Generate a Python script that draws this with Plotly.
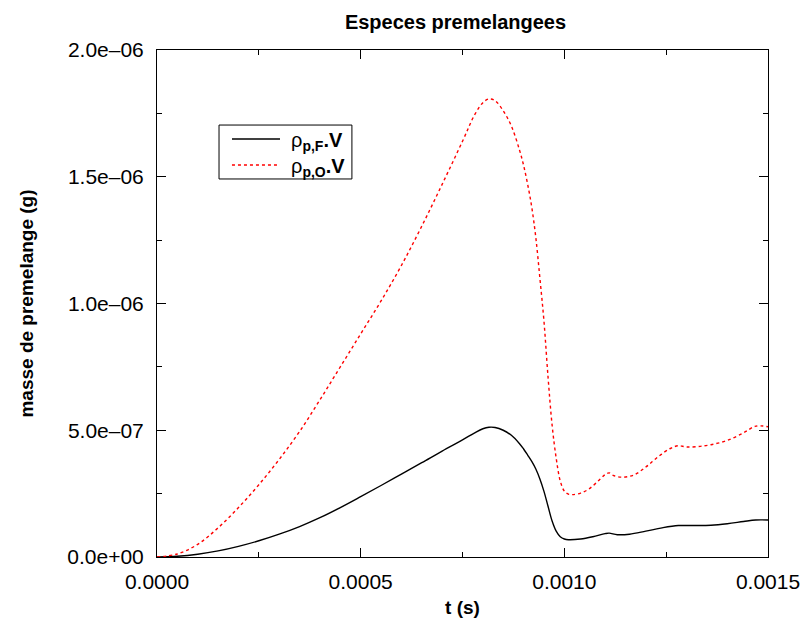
import plotly.graph_objects as go

# Premixed fuel mass rho_p,F . V  (time in ms, mass in 1e-6 g)
t_fuel_ms = [0.0, 0.05, 0.10, 0.15, 0.20, 0.25, 0.30, 0.35, 0.40, 0.45, 0.50, 0.55,
             0.60, 0.65, 0.70, 0.75, 0.78, 0.80, 0.815, 0.83, 0.85, 0.87, 0.89,
             0.90, 0.91, 0.92, 0.93, 0.94, 0.95, 0.96, 0.97, 0.98, 0.99, 1.00,
             1.01, 1.04, 1.07, 1.10, 1.11, 1.13, 1.16, 1.20, 1.24, 1.28, 1.32,
             1.36, 1.40, 1.44, 1.47, 1.50]
m_fuel_ug = [0.0, 0.003, 0.011, 0.024, 0.042, 0.064, 0.090, 0.120, 0.155, 0.195,
             0.238, 0.282, 0.327, 0.372, 0.418, 0.462, 0.490, 0.506, 0.512, 0.511,
             0.500, 0.480, 0.447, 0.426, 0.402, 0.377, 0.347, 0.308, 0.259, 0.200,
             0.142, 0.102, 0.080, 0.071, 0.068, 0.071, 0.080, 0.092, 0.094, 0.088,
             0.090, 0.102, 0.115, 0.124, 0.124, 0.125, 0.131, 0.140, 0.146, 0.146]

# Premixed oxidizer mass rho_p,O . V
t_ox_ms = [0.0, 0.05, 0.10, 0.15, 0.20, 0.25, 0.30, 0.35, 0.40, 0.45, 0.50, 0.55,
           0.60, 0.65, 0.70, 0.75, 0.78, 0.80, 0.815, 0.83, 0.85, 0.87, 0.89,
           0.90, 0.91, 0.92, 0.93, 0.94, 0.95, 0.96, 0.97, 0.98, 0.99, 1.00,
           1.01, 1.02, 1.04, 1.06, 1.08, 1.10, 1.11, 1.12, 1.14, 1.17, 1.20,
           1.23, 1.26, 1.28, 1.30, 1.33, 1.36, 1.40, 1.44, 1.47, 1.50]
m_ox_ug = [0.0, 0.012, 0.050, 0.115, 0.195, 0.285, 0.385, 0.495, 0.620, 0.750,
           0.880, 1.010, 1.150, 1.305, 1.470, 1.640, 1.745, 1.792, 1.807, 1.800,
           1.760, 1.700, 1.605, 1.545, 1.470, 1.380, 1.260, 1.100, 0.930, 0.710,
           0.520, 0.390, 0.300, 0.260, 0.248, 0.246, 0.252, 0.268, 0.295, 0.325,
           0.332, 0.322, 0.315, 0.323, 0.355, 0.395, 0.428, 0.439, 0.434, 0.436,
           0.443, 0.460, 0.490, 0.516, 0.514]

x_ticks = [0.0, 0.0005, 0.0010, 0.0015]
x_labels = ["0.0000", "0.0005", "0.0010", "0.0015"]
y_ticks = [0.0, 0.5e-6, 1.0e-6, 1.5e-6, 2.0e-6]
y_labels = ["0.0e+00", "5.0e\u201307", "1.0e\u201306", "1.5e\u201306", "2.0e\u201306"]

legend_names = ["\u03c1<sub><b>p,F</b></sub><b>.V</b>",
                "\u03c1<sub><b>p,O</b></sub><b>.V</b>"]

FONT = "Liberation Sans, Arial, Helvetica, sans-serif"

t_fuel = [v * 1e-3 for v in t_fuel_ms]
m_fuel = [v * 1e-6 for v in m_fuel_ug]
t_ox = [v * 1e-3 for v in t_ox_ms]
m_ox = [v * 1e-6 for v in m_ox_ug]

fig = go.Figure()
fig.add_trace(go.Scatter(
    x=t_fuel, y=m_fuel, mode="lines", line_shape="spline",
    line=dict(color="black", width=1.4), name=legend_names[0], showlegend=False,
))
fig.add_trace(go.Scatter(
    x=t_ox, y=m_ox, mode="lines", line_shape="spline",
    line=dict(color="#ff0000", width=1.4, dash="dot"), name=legend_names[1],
    showlegend=False,
))

axis_common = dict(
    showline=True, linecolor="black", linewidth=1, mirror="ticks",
    ticks="inside", ticklen=9, tickwidth=1, tickcolor="black",
    showgrid=False, zeroline=False, automargin=False,
    tickfont=dict(family=FONT, size=21, color="black"),
)

fig.update_xaxes(
    range=[0, 0.0015], tickvals=x_ticks, ticktext=x_labels, ticklabelstandoff=6,
    minor=dict(ticks="inside", ticklen=5, tickcolor="black", dtick=0.00025, showgrid=False),
    title=dict(text="<b>t (s)</b>", font=dict(family=FONT, size=19, color="black"), standoff=8),
    **axis_common,
)
fig.update_yaxes(
    range=[0, 2.0e-6], tickvals=y_ticks, ticktext=y_labels, ticklabelstandoff=8,
    minor=dict(ticks="inside", ticklen=5, tickcolor="black", dtick=0.25e-6, showgrid=False),
    title=dict(text="<b>masse de premelange (g)</b>", font=dict(family=FONT, size=19, color="black"), standoff=28),
    **axis_common,
)

# Boxed key in the upper-left of the plotting area
key_box = dict(x0=0.1015, x1=0.319, y0=0.7456, y1=0.852)
key_rows = [
    dict(y=0.8245, color="black", dash="solid"),
    dict(y=0.7732, color="#ff0000", dash="dot"),
]
shapes = [dict(type="rect", xref="paper", yref="paper", **key_box,
               line=dict(color="black", width=1), fillcolor="white", layer="above")]
annotations = []
for name, row in zip(legend_names, key_rows):
    shapes.append(dict(type="line", xref="paper", yref="paper",
                       x0=0.1227, x1=0.2013, y0=row["y"], y1=row["y"],
                       line=dict(color=row["color"], width=1.4, dash=row["dash"]),
                       layer="above"))
    annotations.append(dict(text=name, xref="paper", yref="paper",
                            x=0.2160, y=row["y"] - 0.004, xanchor="left", yanchor="middle",
                            showarrow=False,
                            font=dict(family=FONT, size=20, color="black")))

fig.update_layout(
    width=804, height=620,
    margin=dict(l=157, r=36, t=50, b=63),
    paper_bgcolor="white", plot_bgcolor="white",
    title=dict(text="<b>Especes premelangees</b>", x=455.5 / 804, xanchor="center",
               y=1 - 22 / 620, yanchor="middle",
               font=dict(family=FONT, size=20, color="black")),
    shapes=shapes,
    annotations=annotations,
    showlegend=False,
)

fig.write_html("out.html")
